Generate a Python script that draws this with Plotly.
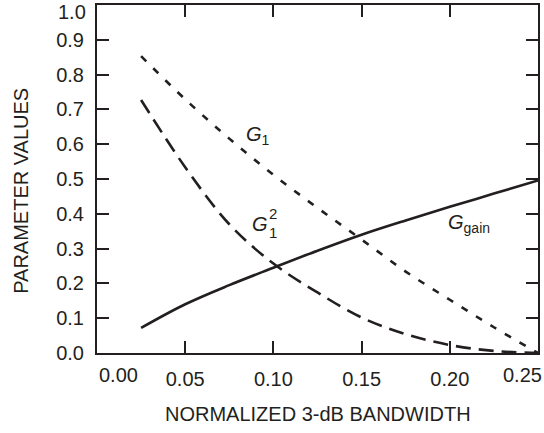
import plotly.graph_objects as go

# Normalized 3-dB bandwidth (x) and parameter values (y)
bandwidth = [0.025, 0.05, 0.075, 0.10, 0.125, 0.15, 0.175, 0.20, 0.225, 0.25]
g_gain = [0.072, 0.14, 0.195, 0.245, 0.294, 0.34, 0.381, 0.42, 0.458, 0.496]
g1 = [0.853, 0.729, 0.616, 0.512, 0.417, 0.326, 0.234, 0.153, 0.074, 0.0]
g1_sq = [0.727, 0.534, 0.37, 0.257, 0.174, 0.102, 0.054, 0.023, 0.006, 0.0]

x_ticks = [0.0, 0.05, 0.10, 0.15, 0.20, 0.25]
x_labels = ["0.00", "0.05", "0.10", "0.15", "0.20", "0.25"]
y_ticks = [0.0, 0.1, 0.2, 0.3, 0.4, 0.5, 0.6, 0.7, 0.8, 0.9, 1.0]
y_labels = ["0.0", "0.1", "0.2", "0.3", "0.4", "0.5", "0.6", "0.7", "0.8", "0.9", "1.0"]

INK = "#231f20"
FONT = "Liberation Sans, Arial, Helvetica, sans-serif"
FS = 20

fig = go.Figure()
fig.add_trace(go.Scatter(x=bandwidth, y=g_gain, mode="lines", line_shape="spline",
                         line=dict(color=INK, width=2.6), name="G_gain"))
fig.add_trace(go.Scatter(x=bandwidth, y=g1, mode="lines", line_shape="spline",
                         line=dict(color=INK, width=2.6, dash="7px,10px"), name="G1"))
fig.add_trace(go.Scatter(x=bandwidth, y=g1_sq, mode="lines", line_shape="spline",
                         line=dict(color=INK, width=2.6, dash="15px,8px"), name="G1^2"))

axis_common = dict(showline=True, linecolor=INK, linewidth=2, mirror="ticks",
                   ticks="inside", ticklen=12, tickwidth=2, tickcolor=INK,
                   showgrid=False, zeroline=False,
                   tickfont=dict(family=FONT, size=FS, color=INK))

# ticks at the frame edges sit on the border lines, so only the inner ones are
# drawn by the axes; the edge labels are placed as annotations below
fig.update_xaxes(range=[0, 0.25], tickvals=x_ticks[1:-1],
                 ticktext=x_labels[1:-1], ticklabelstandoff=7,
                 **axis_common)
fig.update_yaxes(range=[0, 1.0], tickvals=y_ticks[:-1],
                 ticktext=y_labels[:-1], ticklabelstandoff=7,
                 **axis_common)

ann_font = dict(family=FONT, size=FS, color=INK)
annotations = [
    dict(x=x_ticks[0], y=0, xref="x", yref="paper", text=x_labels[0],
         xanchor="left", yanchor="middle", yshift=-22, xshift=0, showarrow=False, font=ann_font),
    dict(x=x_ticks[-1], y=0, xref="x", yref="paper", text=x_labels[-1],
         xanchor="right", yanchor="middle", yshift=-22, xshift=6, showarrow=False, font=ann_font),
    dict(x=0, y=y_ticks[-1], xref="paper", yref="y", text=y_labels[-1],
         xanchor="right", yanchor="middle", xshift=-9, yshift=-7, showarrow=False, font=ann_font),
    dict(x=0.5, y=-0.174, xref="paper", yref="paper", text="NORMALIZED 3-dB BANDWIDTH",
         xanchor="center", yanchor="middle", showarrow=False, font=ann_font),
    dict(x=-0.171, y=0.465, xref="paper", yref="paper", text="PARAMETER VALUES",
         textangle=-90, xanchor="center", yanchor="middle", showarrow=False, font=ann_font),
    # curve labels
    dict(x=0.0835, y=0.625, xref="x", yref="y", text="<i>G</i><sub>1</sub>",
         xanchor="left", yanchor="middle", showarrow=False, font=ann_font),
    dict(x=0.0870, y=0.37, xref="x", yref="y", text="<i>G</i>",
         xanchor="left", yanchor="middle", showarrow=False, font=ann_font),
    dict(x=0.0965, y=0.40, xref="x", yref="y", text="2",
         xanchor="left", yanchor="middle", showarrow=False, font=dict(family=FONT, size=15, color=INK)),
    dict(x=0.0965, y=0.345, xref="x", yref="y", text="1",
         xanchor="left", yanchor="middle", showarrow=False, font=dict(family=FONT, size=15, color=INK)),
    dict(x=0.198, y=0.373, xref="x", yref="y", text="<i>G</i><sub>gain</sub>",
         xanchor="left", yanchor="middle", showarrow=False, font=ann_font),
]

fig.update_layout(
    width=544, height=433,
    margin=dict(l=97, r=6, t=3, b=80),
    paper_bgcolor="white", plot_bgcolor="white",
    showlegend=False,
    font=dict(family=FONT, size=FS, color=INK),
    annotations=annotations,
)

fig.write_html("out.html")
